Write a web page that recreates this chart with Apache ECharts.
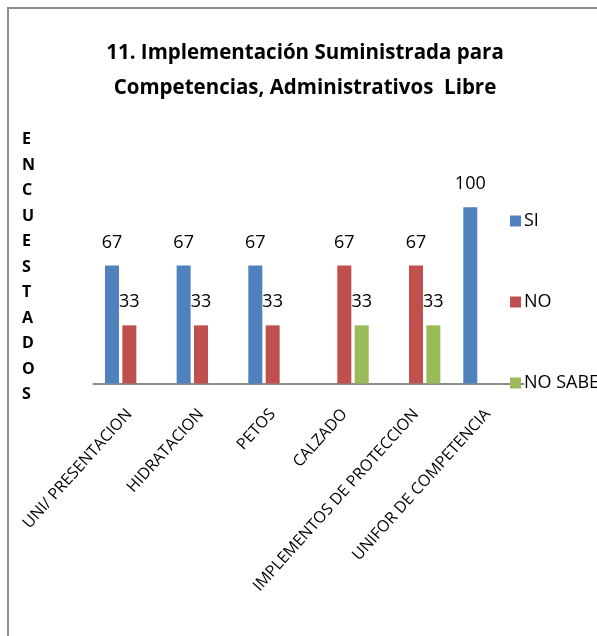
<!DOCTYPE html>
<html>
<head>
    <meta charset="utf-8">
    <title>Implementación Suministrada</title>
    <script type="text/javascript" src="https://cdn.jsdelivr.net/npm/echarts@6/dist/echarts.min.js"></script>
    <style>
        body { margin: 0; overflow: hidden; background: #fff; }
        #marco { position: absolute; left: 7px; top: 7px; width: 620px; height: 660px; border: 2px solid #8c8c8c; }
        #chartmain { position: absolute; left: 0; top: 0; width: 597px; height: 636px; }
    </style>
</head>
<body>
<div id="marco"></div>
<div id="chartmain"></div>
<script type="text/javascript">
// datos de la grafica
var categorias = ['UNI/ PRESENTACION', 'HIDRATACION', 'PETOS', 'CALZADO', 'IMPLEMENTOS DE PROTECCION', 'UNIFOR DE COMPETENCIA'];
var si = [67, 67, 67, 0, 0, 100];
var no = [33, 33, 33, 67, 67, 0];
var noSabe = [0, 0, 0, 33, 33, 0];
var series = ['SI', 'NO', 'NO SABE'];

var fuente = '"Open Sans", "Liberation Sans", sans-serif';

function serie(nombre, datos, color) {
    return {
        name: nombre,
        type: 'bar',
        data: datos,
        barWidth: 14,
        barGap: '24%',
        itemStyle: { color: color },
        label: {
            show: true,
            position: 'top',
            distance: 14,
            color: '#000',
            fontSize: 18,
            fontFamily: fuente,
            formatter: function (p) { return p.value ? p.value : ''; }
        }
    };
}

var option = {
    animation: false,
    title: [{
        text: '11. Implementación Suministrada para\nCompetencias, Administrativos  Libre',
        left: 300,
        textAlign: 'center',
        top: 31,
        textStyle: { fontFamily: fuente, fontWeight: 'bold', fontSize: 20.5, lineHeight: 35, color: '#000' }
    }, {
        // rotulo vertical del eje
        text: 'ENCUESTADOS'.split('').join('\n'),
        left: 17,
        top: 122,
        textStyle: { fontFamily: fuente, fontWeight: 'bold', fontSize: 16, lineHeight: 25.5, color: '#000' }
    }],
    legend: {
        data: series,
        orient: 'vertical',
        left: 505,
        top: 207,
        itemWidth: 11,
        itemHeight: 11,
        itemGap: 63,
        icon: 'rect',
        textStyle: { fontFamily: fuente, fontSize: 18, color: '#000', padding: [0, 0, 0, -2] }
    },
    grid: { left: 93.5, right: 73.5, top: 172, bottom: 252.5 },
    xAxis: {
        type: 'category',
        data: categorias,
        axisLine: { lineStyle: { color: '#8c8c8c', width: 2 } },
        axisTick: { show: false },
        axisLabel: { interval: 0, rotate: 48, fontSize: 16, fontFamily: fuente, color: '#000', margin: 28 }
    },
    yAxis: {
        type: 'value',
        min: 0,
        max: 120,
        interval: 20,
        axisLine: { show: false },
        axisTick: { show: false },
        axisLabel: { show: false },
        splitLine: { show: false }
    },
    series: [
        serie('SI', si, '#4f81bd'),
        serie('NO', no, '#c0504d'),
        serie('NO SABE', noSabe, '#9bbb59')
    ]
};

var myChart = echarts.init(document.getElementById('chartmain'));
myChart.setOption(option);
</script>
</body>
</html>
